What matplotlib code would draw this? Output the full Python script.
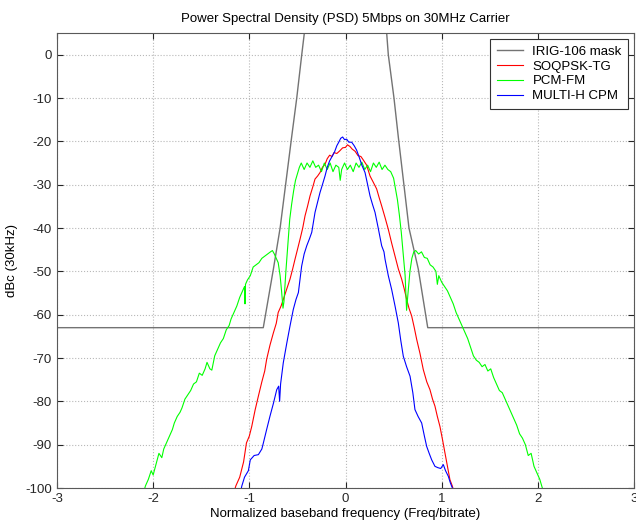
import matplotlib
matplotlib.use("Agg")
import matplotlib.pyplot as plt

# IRIG-106 spectral mask (normalized freq, dBc)
mask_f = [-3.0, -0.855, -0.75, -0.68, -0.56, -0.507, -0.455, -0.428, -0.40,
          0.40, 0.428, 0.445, 0.504, 0.549, 0.66, 0.757, 0.855, 3.0]
mask_db = [-63, -63, -49.5, -40, -19, -10, 0, 5, 10,
           10, 5, 0, -10, -19, -40, -49.5, -63, -63]

# PCM-FM
pcm_f = [-2.10, -2.08, -2.05, -2.02, -2.00, -1.97, -1.94, -1.91, -1.89, -1.86,
         -1.83, -1.80, -1.78, -1.75, -1.72, -1.70, -1.67, -1.64, -1.61, -1.58,
         -1.55, -1.52, -1.49, -1.46, -1.44, -1.41, -1.39, -1.36, -1.33, -1.30,
         -1.27, -1.24, -1.21, -1.19, -1.16, -1.13, -1.10, -1.07, -1.05, -1.045,
         -1.04, -1.02, -0.99, -0.96, -0.93, -0.90, -0.87, -0.84, -0.81, -0.78,
         -0.76, -0.74, -0.72, -0.70, -0.68, -0.665, -0.65, -0.64, -0.62, -0.60,
         -0.58, -0.56, -0.54, -0.52, -0.50, -0.48,
         -0.46, -0.43, -0.40, -0.37, -0.34, -0.31, -0.28, -0.25, -0.22, -0.19,
         -0.16, -0.13, -0.10, -0.07, -0.055, -0.04, -0.01, 0.02, 0.05, 0.08,
         0.11, 0.14, 0.17, 0.20, 0.23, 0.26, 0.29, 0.32, 0.35, 0.38, 0.41, 0.44,
         0.47, 0.50, 0.52, 0.54, 0.56, 0.58, 0.60, 0.62, 0.635, 0.65, 0.67, 0.69,
         0.71, 0.73, 0.76, 0.79, 0.82, 0.85, 0.88, 0.91, 0.94, 0.955, 0.97, 1.00,
         1.03, 1.06, 1.09, 1.12, 1.15, 1.18, 1.21, 1.24, 1.27, 1.30, 1.33, 1.36,
         1.39, 1.42, 1.45, 1.48, 1.51, 1.54, 1.57, 1.60, 1.63, 1.66, 1.69, 1.72,
         1.75, 1.78, 1.81, 1.84, 1.87, 1.90, 1.93, 1.96, 1.99, 2.02, 2.04, 2.06]
pcm_db = [-101, -99.5, -98.0, -96.0, -97.0, -94.5, -92.0, -93.0, -91.0, -89.5,
          -88.0, -86.5, -85.0, -83.5, -82.5, -81.5, -79.5, -78.5, -77.5, -76.0,
          -75.5, -73.5, -74.0, -72.5, -71.0, -72.5, -72.8, -69.5, -68.0, -66.5,
          -65.5, -63.5, -62.5, -61.0, -59.5, -58.0, -56.0, -54.5, -53.5, -57.5,
          -53.0, -52.0, -51.0, -49.0, -48.5, -48.0, -47.0, -46.5, -46.0, -45.5,
          -45.2, -46.0, -47.0, -48.0, -51.0, -54.5, -58.5, -57.0, -50.0, -44.0,
          -38.0, -34.5, -31.5, -29.0, -27.5, -26.0,
          -25.0, -26.5, -25.0, -26.0, -24.5, -26.0, -25.5, -27.0, -25.0, -26.5,
          -25.0, -27.0, -25.5, -26.0, -29.0, -26.5, -25.0, -26.5, -25.5, -27.0,
          -25.0, -26.0, -24.8, -26.5, -25.5, -27.0, -25.0, -26.0, -24.8, -26.5,
          -25.5, -26.5,
          -27.0, -28.5, -31.0, -33.5, -37.0, -41.0, -46.0, -51.0, -59.0, -55.0,
          -50.0, -47.0, -45.5, -45.2, -46.0, -45.5, -46.8, -47.0, -48.5, -49.0,
          -50.0, -53.0, -51.0, -52.5, -53.5, -54.5, -56.0, -57.5, -59.5, -61.0,
          -62.5, -64.0, -65.5, -67.5, -69.5, -70.5, -71.0, -72.0, -71.5, -73.0,
          -72.5, -74.5, -76.0, -77.5, -78.0, -79.5, -81.0, -82.5, -84.0, -85.5,
          -87.5, -88.5, -90.0, -92.5, -92.0, -95.0, -96.5, -98.0, -99.5, -101]

# SOQPSK-TG
soq_f = [-1.16, -1.14, -1.10, -1.06, -1.03, -1.00, -0.975, -0.94, -0.906, -0.87,
         -0.84, -0.82, -0.785, -0.75, -0.72, -0.70, -0.67, -0.647, -0.61, -0.577,
         -0.55, -0.525, -0.50, -0.473, -0.445, -0.421, -0.395, -0.369, -0.34,
         -0.317, -0.29, -0.265, -0.24, -0.213, -0.19, -0.165, -0.14, -0.12,
         -0.09, -0.06, -0.03, 0.0, 0.02, 0.047, 0.07, 0.10, 0.13, 0.16, 0.185,
         0.22, 0.255, 0.29, 0.324, 0.35, 0.376, 0.41, 0.445, 0.48, 0.515, 0.55,
         0.584, 0.61, 0.636, 0.66, 0.688, 0.715, 0.74, 0.775, 0.809, 0.845,
         0.878, 0.905, 0.93, 0.955, 0.982, 1.01, 1.034, 1.06, 1.086, 1.11, 1.13]
soq_db = [-101, -99.5, -97.5, -94.0, -89.6, -88.0, -85.8, -82.0, -78.8, -75.5,
          -73.0, -70.3, -67.0, -64.2, -62.0, -59.5, -58.0, -56.5, -54.0, -51.8,
          -49.5, -47.2, -45.0, -42.6, -40.0, -37.2, -35.0, -32.6, -30.5,
          -28.7, -28.0, -27.2, -26.0, -25.3, -24.0, -23.2, -23.5, -22.6,
          -22.8, -22.2, -21.5, -21.4, -20.8, -21.2, -21.8, -22.3, -23.3, -23.5, -24.3,
          -25.5, -28.0, -29.5, -31.0, -33.0, -34.9, -37.5, -40.3, -43.5, -46.5, -49.5,
          -51.8, -54.0, -56.5, -58.5, -60.3, -63.0, -65.7, -69.0, -72.7, -75.5,
          -77.3, -79.5, -81.1, -83.5, -85.8, -89.0, -91.9, -95.0, -98.1, -99.5, -101]

# MULTI-H CPM
mh_f = [-1.09, -1.079, -1.05, -1.01, -0.99, -0.95, -0.906, -0.87, -0.854, -0.82,
        -0.785, -0.75, -0.715, -0.695, -0.685, -0.675, -0.647, -0.61, -0.577,
        -0.543, -0.515, -0.49, -0.456, -0.43, -0.403, -0.375, -0.351, -0.317,
        -0.29, -0.265, -0.24, -0.213, -0.19, -0.165, -0.14, -0.115, -0.09,
        -0.07, -0.05, -0.03, -0.01, 0.012, 0.035, 0.064, 0.09, 0.115, 0.14,
        0.17, 0.203, 0.23, 0.255, 0.28, 0.307, 0.34, 0.376, 0.40, 0.411, 0.445,
        0.48, 0.515, 0.549, 0.575, 0.601, 0.635, 0.671, 0.70, 0.722, 0.755,
        0.792, 0.82, 0.844, 0.87, 0.896, 0.93, 0.96, 0.99, 1.017, 1.04, 1.069,
        1.09, 1.12]
mh_db = [-101, -99.6, -97.5, -96.0, -93.5, -92.5, -92.3, -91.0, -89.6, -86.5,
         -83.4, -80.5, -77.3, -76.5, -80.0, -76.0, -71.1, -66.5, -62.6,
         -58.8, -56.5, -54.9, -48.8, -46.0, -44.1, -42.5, -41.0, -36.4,
         -34.0, -31.8, -30.0, -28.0, -26.0, -24.5, -23.5, -22.5, -21.0,
         -20.2, -19.3, -19.0, -19.6, -19.5, -20.2, -20.2, -21.0, -22.0, -23.5,
         -25.5, -27.2, -30.0, -32.6, -34.5, -36.4, -40.0, -44.1, -45.5, -47.2, -51.0,
         -54.2, -58.0, -61.9, -66.0, -69.6, -72.0, -74.2, -78.0, -81.9, -83.5,
         -85.0, -88.0, -90.4, -92.0, -93.5, -95.0, -95.3, -95.5, -94.6, -96.0, -97.3,
         -98.8, -100.5]

x_ticks = [-3, -2, -1, 0, 1, 2, 3]
y_ticks = [0, -10, -20, -30, -40, -50, -60, -70, -80, -90, -100]

plt.rcParams["font.family"] = ["Liberation Sans", "DejaVu Sans"]
plt.rcParams["font.size"] = 9
plt.rcParams["axes.unicode_minus"] = False

fig = plt.figure(figsize=(6.36, 5.23), dpi=100)
ax = fig.add_axes([0.0896, 0.0669, 0.9073, 0.870])

ax.plot(mask_f, mask_db, color="0.45", lw=1.0, label="IRIG-106 mask")
ax.plot(soq_f, soq_db, color="#ff0000", lw=0.8, label="SOQPSK-TG")
ax.plot(pcm_f, pcm_db, color="#00ff00", lw=0.8, label="PCM-FM")
ax.plot(mh_f, mh_db, color="#0000ff", lw=0.8, label="MULTI-H CPM")

ax.set_xlim(-3, 3)
ax.set_ylim(-100, 5)
ax.set_xticks(x_ticks)
ax.set_yticks(y_ticks)
ax.grid(True, linestyle=":", color="0.72", lw=0.8)
ax.tick_params(direction="in", top=True, right=True, length=4, width=0.8,
               colors="0.15", labelsize=9.5)
for s in ax.spines.values():
    s.set_color("0.35")
    s.set_linewidth(0.8)

ax.set_title("Power Spectral Density (PSD) 5Mbps on 30MHz Carrier", fontsize=9.5, pad=8)
ax.set_xlabel("Normalized baseband frequency (Freq/bitrate)", fontsize=9.5, labelpad=2)
ax.set_ylabel("dBc (30kHz)", fontsize=9.5, labelpad=5)

leg = ax.legend(loc="upper right", bbox_to_anchor=(0.99, 0.987), borderaxespad=0,
                fancybox=False, framealpha=1, edgecolor="0.2", fontsize=9.5,
                handlelength=2.0, handletextpad=0.7, labelspacing=0.2,
                borderpad=0.5)
leg.get_frame().set_linewidth(0.8)

fig.savefig("out.png", dpi=100)
